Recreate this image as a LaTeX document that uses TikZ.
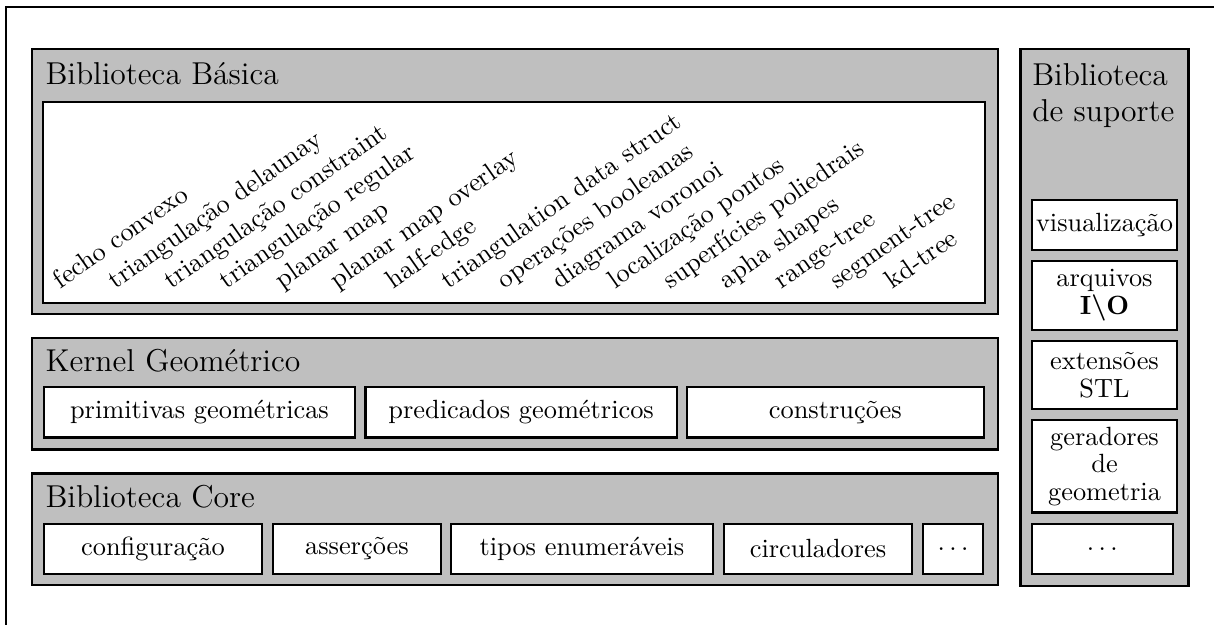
\documentclass[tikz,border=0pt]{standalone}
\usepackage{amsmath, amssymb}
\usetikzlibrary{shapes}

\begin{document}
\begin{tikzpicture}[font=\fontsize{10}{10.5}\selectfont]
	\tikzstyle{groupStyle} = [draw, thick, fill = lightgray, inner sep = 0pt]
	\tikzstyle{itemStyle} = [draw, thick, fill = white, align = center, inner sep = 1pt]
	\tikzstyle{titleStyle} = [anchor = base west, inner sep = 0pt, font = \fontsize{12}{13.5}\selectfont]
	\tikzstyle{rotatedStyle} = [anchor = base west, inner sep = 0pt, rotate = 35]
	\useasboundingbox (0, 0) rectangle (16.19, 8.33);
	% page frame
	\coordinate (f0) at (0.08, 0);
	\coordinate (f1) at (0.08, 8.24);
	\coordinate (f2) at (16.19, 8.24);
	\draw[semithick] (f0) -- (f1) -- (f2);
	% Biblioteca Basica
	\node[groupStyle, minimum width = 12.88cm, minimum height = 3.53cm] (basica) at (6.87, 5.91) {};
	\node[titleStyle] (basicaTitle) at (0.6, 7.2) {Biblioteca Básica};
	\node[draw, thick, fill = white, minimum width = 12.56cm, minimum height = 2.67cm] (basicaBox) at (6.85, 5.63) {};
	\node[rotatedStyle] (t0) at (0.80, 4.47) {fecho convexo};
	\node[rotatedStyle] (t1) at (1.54, 4.47) {triangulação delaunay};
	\node[rotatedStyle] (t2) at (2.28, 4.47) {triangulação constraint};
	\node[rotatedStyle] (t3) at (3.02, 4.47) {triangulação regular};
	\node[rotatedStyle] (t4) at (3.76, 4.47) {planar map};
	\node[rotatedStyle] (t5) at (4.50, 4.47) {planar map overlay};
	\node[rotatedStyle] (t6) at (5.24, 4.47) {half-edge};
	\node[rotatedStyle] (t7) at (5.98, 4.47) {triangulation data struct};
	\node[rotatedStyle] (t8) at (6.72, 4.47) {operações booleanas};
	\node[rotatedStyle] (t9) at (7.46, 4.47) {diagrama voronoi};
	\node[rotatedStyle] (t10) at (8.20, 4.47) {localização pontos};
	\node[rotatedStyle] (t11) at (8.94, 4.47) {superfícies poliedrais};
	\node[rotatedStyle] (t12) at (9.68, 4.47) {apha shapes};
	\node[rotatedStyle] (t13) at (10.42, 4.47) {range-tree};
	\node[rotatedStyle] (t14) at (11.16, 4.47) {segment-tree};
	\node[rotatedStyle] (t15) at (11.90, 4.47) {kd-tree};
	% Kernel Geometrico
	\node[groupStyle, minimum width = 12.88cm, minimum height = 1.49cm] (kernel) at (6.87, 3.08) {};
	\node[titleStyle] (kernelTitle) at (0.6, 3.37) {Kernel Geométrico};
	\node[itemStyle, minimum width = 4.15cm, minimum height = 0.67cm] (k0) at (2.66, 2.83) {primitivas geométricas};
	\node[itemStyle, minimum width = 4.15cm, minimum height = 0.67cm] (k1) at (6.95, 2.83) {predicados geométricos};
	\node[itemStyle, minimum width = 3.96cm, minimum height = 0.67cm] (k2) at (11.14, 2.83) {construções};
	% Biblioteca Core
	\node[groupStyle, minimum width = 12.88cm, minimum height = 1.49cm] (core) at (6.87, 1.27) {};
	\node[titleStyle] (coreTitle) at (0.6, 1.56) {Biblioteca Core};
	\node[itemStyle, minimum width = 2.91cm, minimum height = 0.67cm] (c0) at (2.04, 1.01) {configuração};
	\node[itemStyle, minimum width = 2.24cm, minimum height = 0.67cm] (c1) at (4.76, 1.01) {asserções};
	\node[itemStyle, minimum width = 3.49cm, minimum height = 0.67cm] (c2) at (7.76, 1.01) {tipos enumeráveis};
	\node[itemStyle, minimum width = 2.51cm, minimum height = 0.67cm] (c3) at (10.91, 1.01) {circuladores};
	\node[itemStyle, minimum width = 0.81cm, minimum height = 0.67cm] (c4) at (12.71, 1.01) {$\ldots$};
	% Biblioteca de suporte
	\node[groupStyle, minimum width = 2.24cm, minimum height = 7.16cm] (suporte) at (14.73, 4.1) {};
	\node[titleStyle, anchor = north west, align = left] (suporteTitle) at (13.76, 7.49) {Biblioteca\\de suporte};
	\node[itemStyle, minimum width = 1.93cm, minimum height = 0.67cm] (s0) at (14.73, 5.33) {visualização};
	\node[itemStyle, minimum width = 1.93cm, minimum height = 0.91cm] (s1) at (14.73, 4.39) {arquivos\\\textbf{I\textbackslash O}};
	\node[itemStyle, minimum width = 1.93cm, minimum height = 0.91cm] (s2) at (14.73, 3.33) {extensões\\STL};
	\node[itemStyle, minimum width = 1.93cm, minimum height = 1.23cm] (s3) at (14.73, 2.11) {geradores\\de\\geometria};
	\node[itemStyle, minimum width = 1.88cm, minimum height = 0.67cm] (s4) at (14.70, 1.01) {$\ldots$};
\end{tikzpicture}
\end{document}
